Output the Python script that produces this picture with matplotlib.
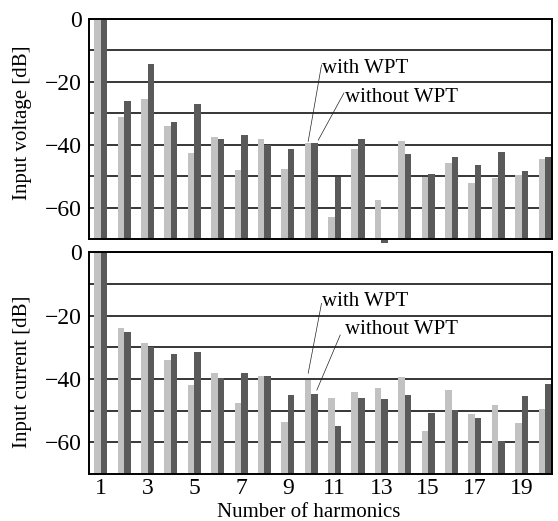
import numpy as np
from matplotlib import pyplot as plt

# harmonic orders 1..20
harmonics = np.arange(1, 21)

# input voltage [dB]
volt_with = [0, -31.0, -25.3, -33.9, -42.6, -37.4, -48.0, -38.0, -47.8, -39.5,
             -62.9, -41.3, -57.6, -38.9, -50.2, -45.6, -52.0, -50.6, -49.5, -44.6]
volt_without = [0, -26.0, -14.3, -32.7, -27.0, -38.0, -36.9, -39.9, -41.4, -39.5,
                -50.1, -38.1, -71.1, -43.0, -49.3, -44.0, -46.5, -42.4, -48.3, -43.9]

# input current [dB]
curr_with = [0, -24.0, -28.7, -34.0, -41.8, -38.2, -47.6, -39.2, -53.7, -40.4,
             -46.0, -44.2, -42.9, -39.5, -56.5, -43.4, -51.2, -48.2, -53.9, -49.6]
curr_without = [0, -25.2, -30.0, -32.2, -31.6, -39.8, -38.2, -39.2, -45.2, -44.8,
                -54.8, -45.9, -46.4, -45.2, -50.7, -49.7, -52.2, -59.6, -45.5, -41.6]

ylabels = ['Input voltage [dB]', 'Input current [dB]']
xlabel = 'Number of harmonics'

plt.rcParams['font.family'] = ['Liberation Serif', 'DejaVu Serif']
plt.rcParams['axes.unicode_minus'] = True

light = '#c2c2c2'
dark = '#5a5a5a'
bottom = -70
w = 0.28

fig = plt.figure(figsize=(5.58, 5.21), dpi=100)
ax1 = fig.add_axes([0.159, 0.5407, 0.830, 0.4228])
ax2 = fig.add_axes([0.159, 0.0902, 0.830, 0.4255])

def panel(ax, d_with, d_without, ylab, lab_y, notes):
    d_with = np.array(d_with)
    d_without = np.array(d_without)
    ax.bar(harmonics - w/2, d_with - bottom, w, bottom=bottom, color=light,
           linewidth=0, zorder=3, clip_on=False)
    ax.bar(harmonics + w/2, d_without - bottom, w, bottom=bottom, color=dark,
           linewidth=0, zorder=3, clip_on=False)
    ax.set_xlim(0.485, 20.29)
    ax.set_ylim(-70, 0)
    ax.set_yticks([0, -20, -40, -60])
    ax.set_yticks(np.arange(-60, 0, 10), minor=True)
    ax.grid(True, which='both', axis='y', color='black', lw=1.1, zorder=1)
    ax.tick_params(axis='both', which='both', length=0, labelsize=17, pad=5)
    for s in ax.spines.values():
        s.set_linewidth(1.4)
        s.set_zorder(4)
    ax.set_ylabel(ylab, fontsize=15)
    ax.yaxis.set_label_coords(-0.122, lab_y)
    # leader annotations
    for txt, tx, ty, x0, y0, x1, y1 in notes:
        ax.text(tx, ty, txt, fontsize=15, ha='left', va='center', zorder=5)
        ax.plot([x0, x1], [y0, y1], color='#222222', lw=0.5, zorder=5)

panel(ax1, volt_with, volt_without, ylabels[0], 0.528,
      [('with WPT', 10.44, -15.8, 10.44, -14.6, 9.87, -38.9),
       ('without WPT', 11.44, -25.0, 11.40, -23.5, 10.30, -38.5)])
panel(ax2, curr_with, curr_without, ylabels[1], 0.46,
      [('with WPT', 10.44, -15.4, 10.44, -16.1, 9.87, -38.2),
       ('without WPT', 11.44, -24.5, 11.24, -26.1, 10.24, -43.5)])

ax1.set_xticks([])
ax2.set_xticks(np.arange(1, 21, 2))
ax2.tick_params(axis='x', pad=3)
ax2.set_xlabel(xlabel, fontsize=15)
ax2.xaxis.set_label_coords(0.475, -0.131)

fig.savefig('out.png', dpi=100)
plt.close()
